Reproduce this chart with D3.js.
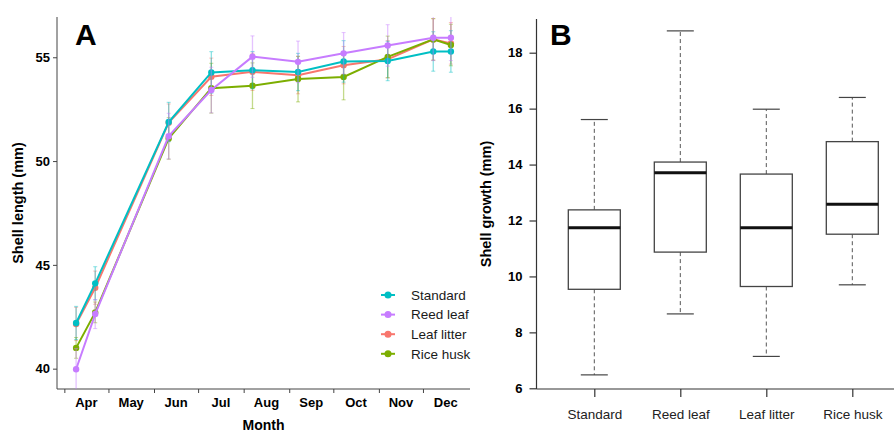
<!DOCTYPE html>
<html><head><meta charset="utf-8">
<script src="https://cdn.jsdelivr.net/npm/d3@7"></script>
<style>
html,body{margin:0;padding:0;background:#fff;}
svg{display:block;font-family:"Liberation Sans",Arial,sans-serif;}
</style></head>
<body><svg id="c" width="894" height="434"></svg>
<script>
// ---------- Panel A data ----------
const sampleDates = ["2019-04-09","2019-04-22","2019-06-11","2019-07-10","2019-08-07","2019-09-07","2019-10-08","2019-11-07","2019-12-08","2019-12-20"];
const monthLabels = ["Apr","May","Jun","Jul","Aug","Sep","Oct","Nov","Dec"];
const seriesNames = ["Standard","Reed leaf","Leaf litter","Rice husk"];
const seriesColors = ["#00BFC4","#C77CFF","#F8766D","#7CAE00"];
const standardMean = [42.2, 44.11, 51.88, 54.27, 54.38, 54.29, 54.8, 54.82, 55.28, 55.28];
const standardErr  = [0.8, 0.8, 0.95, 1.0, 0.9, 0.9, 1.0, 0.95, 0.95, 1.0];
const reedMean     = [39.97, 42.63, 51.2, 53.42, 55.03, 54.78, 55.19, 55.57, 55.94, 55.94];
const reedErr      = [1.0, 0.7, 1.1, 1.1, 1.0, 1.0, 1.0, 1.0, 1.1, 1.1];
const litterMean   = [42.15, 43.9, 51.85, 54.06, 54.3, 54.14, 54.62, 54.9, 55.86, 55.67];
const litterErr    = [0.8, 0.8, 0.9, 0.9, 0.9, 0.9, 0.9, 0.9, 1.0, 1.0];
const riceMean     = [41.0, 42.71, 51.09, 53.51, 53.63, 53.95, 54.05, 55.02, 55.86, 55.59];
const riceErr      = [0.5, 0.5, 1.0, 1.2, 1.1, 1.1, 1.1, 1.0, 1.0, 1.0];
const yTicksA = [40, 45, 50, 55];

// ---------- Panel B data ----------
const groups = ["Standard","Reed leaf","Leaf litter","Rice husk"];
const whiskerLow  = [6.48, 8.66, 7.14, 9.70];
const q1          = [9.54, 10.87, 9.64, 11.51];
const medians     = [11.74, 13.71, 11.74, 12.58];
const q3          = [12.38, 14.09, 13.66, 14.82];
const whiskerHigh = [15.61, 18.78, 15.98, 16.40];
const yTicksB = [6, 8, 10, 12, 14, 16, 18];

const svg = d3.select("#c");
const parse = d3.timeParse("%Y-%m-%d");

// ================= Panel A =================
const A = {l:57, r:470, t:17, b:389};
const x = d3.scaleTime().domain([parse("2019-03-27"), parse("2020-01-02")]).range([A.l, A.r]);
const y = d3.scaleLinear().domain([39.02, 56.94]).range([A.b, A.t]);

svg.append("clipPath").attr("id","clipA").append("rect")
  .attr("x",A.l).attr("y",A.t).attr("width",A.r-A.l).attr("height",A.b-A.t);

const gA = svg.append("g");
gA.append("line").attr("x1",A.l).attr("x2",A.l).attr("y1",A.t).attr("y2",A.b).attr("stroke","#444").attr("stroke-width",1);
gA.append("line").attr("x1",A.l).attr("x2",A.r).attr("y1",A.b).attr("y2",A.b).attr("stroke","#444").attr("stroke-width",1);

const yAx = gA.append("g").attr("transform",`translate(${A.l},0)`)
  .call(d3.axisLeft(y).tickValues(yTicksA).tickSize(4).tickPadding(3).tickFormat(d3.format("d")));
yAx.select(".domain").remove();
yAx.selectAll("line").attr("stroke","#444");
yAx.selectAll("text").attr("font-size",13).attr("font-weight","bold").attr("fill","#000")
  .attr("font-family","Liberation Sans, Arial, sans-serif");

const monthStarts = monthLabels.map((m,i)=>new Date(2019,3+i,1));
const xAx = gA.append("g").attr("transform",`translate(0,${A.b})`)
  .call(d3.axisBottom(x).tickValues(monthStarts).tickSize(4).tickFormat(""));
xAx.select(".domain").remove();
xAx.selectAll("line").attr("stroke","#444");
gA.selectAll("text.mon").data(monthLabels).join("text").attr("class","mon")
  .attr("x",(d,i)=>(x(new Date(2019,3+i,1))+x(new Date(2019,4+i,1)))/2)
  .attr("y",407).attr("text-anchor","middle").attr("font-size",13).attr("font-weight","bold").attr("fill","#000")
  .text(d=>d);

gA.append("text").attr("x",(A.l+A.r)/2).attr("y",430).attr("text-anchor","middle")
  .attr("font-size",14).attr("font-weight","bold").text("Month");
gA.append("text").attr("transform",`translate(23,${(A.t+A.b)/2}) rotate(-90)`).attr("text-anchor","middle")
  .attr("font-size",14.5).attr("font-weight","bold").text("Shell length (mm)");
gA.append("text").attr("x",75).attr("y",45).attr("font-size",30).attr("font-weight","bold").text("A");

const means = [standardMean, reedMean, litterMean, riceMean];
const errs = [standardErr, reedErr, litterErr, riceErr];
const drawOrder = [2, 3, 0, 1];
const plotG = gA.append("g").attr("clip-path","url(#clipA)");
const line = d3.line().x((d,i)=>x(parse(sampleDates[i]))).y(d=>y(d));

drawOrder.forEach(s=>{
  const col = seriesColors[s];
  const g = plotG.append("g");
  means[s].forEach((m,i)=>{
    const cx = x(parse(sampleDates[i]));
    const e = errs[s][i];
    g.append("line").attr("x1",cx).attr("x2",cx).attr("y1",y(m-e)).attr("y2",y(m+e))
      .attr("stroke",col).attr("stroke-width",1.3).attr("opacity",0.45);
    [m-e,m+e].forEach(v=>g.append("line").attr("x1",cx-2).attr("x2",cx+2).attr("y1",y(v)).attr("y2",y(v))
      .attr("stroke",col).attr("stroke-width",1).attr("opacity",0.45));
  });
  g.append("path").datum(means[s]).attr("d",line).attr("fill","none").attr("stroke",col).attr("stroke-width",2);
  g.selectAll("circle").data(means[s]).join("circle")
    .attr("cx",(d,i)=>x(parse(sampleDates[i]))).attr("cy",d=>y(d)).attr("r",3.2).attr("fill",col);
});

const leg = gA.append("g");
seriesNames.forEach((n,i)=>{
  const yy = 295 + i*19.6;
  leg.append("line").attr("x1",381).attr("x2",395).attr("y1",yy).attr("y2",yy).attr("stroke",seriesColors[i]).attr("stroke-width",2);
  leg.append("circle").attr("cx",388).attr("cy",yy).attr("r",3.5).attr("fill",seriesColors[i]);
  leg.append("text").attr("x",411).attr("y",yy+4.8).attr("font-size",13.5).attr("fill","#1a1a1a").text(n);
});

// ================= Panel B =================
const B = {l:536.5, r:894, t:19, b:389};
const yb = d3.scaleLinear().domain([6, 18]).range([388.3, 52.7]);
const xb = d3.scalePoint().domain(groups).range([594.3, 852.3]);
const gB = svg.append("g");
gB.append("line").attr("x1",B.l).attr("x2",B.l).attr("y1",B.t).attr("y2",B.b).attr("stroke","#333").attr("stroke-width",1.2);
gB.append("line").attr("x1",B.l).attr("x2",B.r).attr("y1",B.b).attr("y2",B.b).attr("stroke","#333").attr("stroke-width",1.2);
const ybAx = gB.append("g").attr("transform",`translate(${B.l},0)`)
  .call(d3.axisLeft(yb).tickValues(yTicksB).tickSize(7).tickPadding(7).tickFormat(d3.format("d")));
ybAx.select(".domain").remove();
ybAx.selectAll("line").attr("stroke","#333").attr("stroke-width",1.2);
ybAx.selectAll("text").attr("font-size",13).attr("font-weight","bold").attr("fill","#000")
  .attr("font-family","Liberation Sans, Arial, sans-serif");
const xbAx = gB.append("g").attr("transform",`translate(0,${B.b})`)
  .call(d3.axisBottom(xb).tickSize(8).tickPadding(12));
xbAx.select(".domain").remove();
xbAx.selectAll("line").attr("stroke","#333").attr("stroke-width",1.2);
xbAx.selectAll("text").attr("font-size",13.5).attr("fill","#222")
  .attr("font-family","Liberation Sans, Arial, sans-serif");

gB.append("text").attr("transform",`translate(491,${(B.t+B.b)/2}) rotate(-90)`).attr("text-anchor","middle")
  .attr("font-size",14.5).attr("font-weight","bold").text("Shell growth (mm)");
gB.append("text").attr("x",550).attr("y",45).attr("font-size",30).attr("font-weight","bold").text("B");

const bw = 52, cw = 27;
groups.forEach((g,i)=>{
  const cx = xb(g);
  gB.append("line").attr("x1",cx).attr("x2",cx).attr("y1",yb(q3[i])).attr("y2",yb(whiskerHigh[i]))
    .attr("stroke","#555").attr("stroke-width",1).attr("stroke-dasharray","4,3");
  gB.append("line").attr("x1",cx).attr("x2",cx).attr("y1",yb(q1[i])).attr("y2",yb(whiskerLow[i]))
    .attr("stroke","#555").attr("stroke-width",1).attr("stroke-dasharray","4,3");
  [whiskerHigh[i], whiskerLow[i]].forEach(v=>gB.append("line").attr("x1",cx-cw/2).attr("x2",cx+cw/2)
    .attr("y1",yb(v)).attr("y2",yb(v)).attr("stroke","#444").attr("stroke-width",1.2));
  gB.append("rect").attr("x",cx-bw/2).attr("y",yb(q3[i])).attr("width",bw).attr("height",yb(q1[i])-yb(q3[i]))
    .attr("fill","#fff").attr("stroke","#444").attr("stroke-width",1.3);
  gB.append("line").attr("x1",cx-bw/2).attr("x2",cx+bw/2).attr("y1",yb(medians[i])).attr("y2",yb(medians[i]))
    .attr("stroke","#111").attr("stroke-width",3);
});
</script></body></html>
